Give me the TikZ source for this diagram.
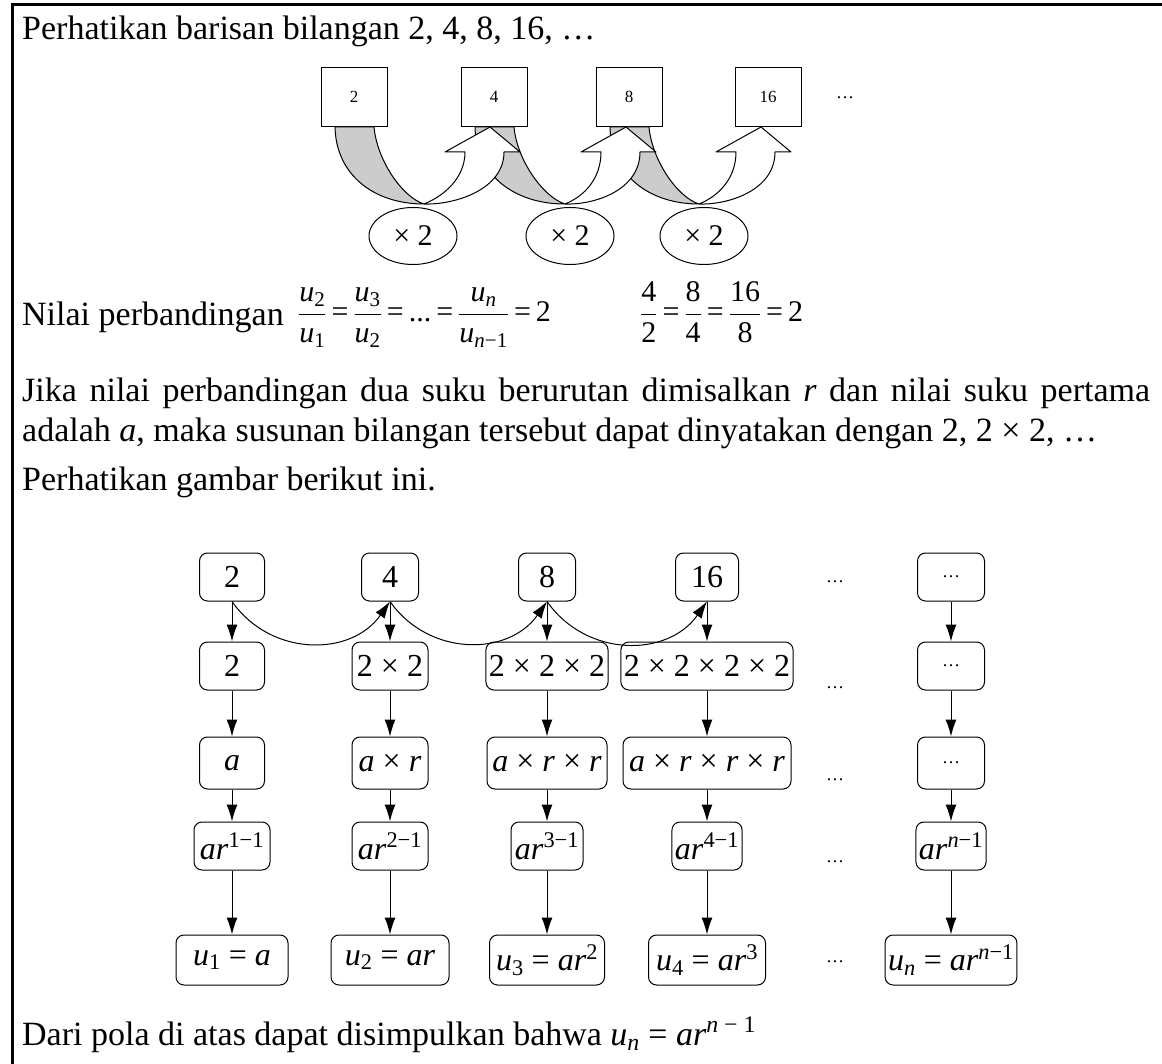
\RequirePackage{fix-cm}
\documentclass[tikz,border=0pt]{standalone}
\usepackage{amsmath}
\usepackage{fontspec}
\setmainfont{Liberation Serif}
\usetikzlibrary{arrows.meta,shapes.geometric}

\newcommand{\eq}{\mathrel{\text{=}}}
\newcommand{\vu}[1]{\textit{u}_{\text{#1}}}

\tikzset{
  txt/.style={anchor=base west, inner sep=0pt, font=\fontsize{34}{40}\selectfont},
  formula/.style={anchor=base west, inner sep=0pt, font=\fontsize{30}{34}\selectfont},
  sqbox/.style={draw, line width=1pt, minimum width=66pt, minimum height=59pt, inner sep=0pt, font=\fontsize{17}{20}\selectfont},
  oval/.style={draw, ellipse, line width=1pt, minimum width=88pt, minimum height=57pt, inner sep=0pt, font=\fontsize{30}{34}\selectfont},
  rbox/.style={draw, line width=1pt, rounded corners=8pt, minimum height=48pt, inner sep=3pt, font=\fontsize{32}{36}\selectfont},
  dots/.style={inner sep=0pt, font=\fontsize{18}{20}\selectfont},
  arr/.style={-{Latex[length=17pt,width=11pt]}, line width=1pt},
  band/.style={draw, line width=1pt, line join=round},
}

\begin{document}
\begin{tikzpicture}[x=1pt, y=-1pt]
    \useasboundingbox (0,0) rectangle (1162,1064);

    % frame
    \draw[line width=3pt] (12,1064) -- (12,5) -- (1162,5);

    % first sequence
    \node[txt] (line1) at (22,40) {Perhatikan barisan bilangan 2, 4, 8, 16, \ldots};

    \node[sqbox] (s1) at (354,97) {2};
    \node[sqbox] (s2) at (494,97) {4};
    \node[sqbox] (s3) at (629,97) {8};
    \node[sqbox] (s4) at (768,97) {16};
    \node[dots] (sdots) at (845,98) {\ldots};

    % shaded backs of the curved arrows
    \foreach \sx/\bx/\tx in {354/424/490, 494/565/626, 629/699/761} {
        \filldraw[band, fill=black!20] (\sx-19,127) .. controls (\sx-18,175) and (\sx+20,204) .. (\bx,204)
            .. controls (\bx-22,197) and (\sx+23,160) .. (\sx+20,127) -- cycle;
    }
    % white fronts with heads
    \foreach \sx/\bx/\tx in {354/424/490, 494/565/626, 629/699/761} {
        \filldraw[band, fill=white] (\bx,204) .. controls (\bx+20,196) and (\tx-25,178) .. (\tx-25,152)
            -- (\tx-45,152) -- (\tx,127) -- (\tx+30,152) -- (\tx+14,152)
            .. controls (\tx+14,190) and (\bx+30,205) .. (\bx,204) -- cycle;
    }

    \node[oval] (o1) at (413,236) {× 2};
    \node[oval] (o2) at (570,236) {× 2};
    \node[oval] (o3) at (704,236) {× 2};

    % ratios
    \node[txt] (line2) at (22,326) {Nilai perbandingan};
    \node[formula] (ratio) at (298,322)
        {$\thickmuskip=3mu \dfrac{\vu{2}}{\vu{1}}\eq\dfrac{\vu{3}}{\vu{2}}\eq\text{...}\eq\dfrac{\vu{\textit{n}}}{\vu{\textit{n}−1}}\eq\text{2}$};
    \node[formula] (ratio2) at (640,322)
        {$\thickmuskip=3mu \dfrac{\text{4}}{\text{2}}\eq\dfrac{\text{8}}{\text{4}}\eq\dfrac{\text{16}}{\text{8}}\eq\text{2}$};

    \node[txt] (line3) at (22,402) {\makebox[1128pt][s]{Jika nilai perbandingan dua suku berurutan dimisalkan \textit{r} dan nilai suku pertama}};
    \node[txt] (line4) at (22,442) {adalah \textit{a}, maka susunan bilangan tersebut dapat dinyatakan dengan 2, 2 × 2, \ldots};
    \node[txt] (line5) at (22,490) {Perhatikan gambar berikut ini.};

    % pattern diagram
    \node[rbox, minimum width=65pt] (num1) at (232,577) {2};
    \node[rbox, minimum width=57pt] (num2) at (390,577) {4};
    \node[rbox, minimum width=57pt] (num3) at (547,577) {8};
    \node[rbox, minimum width=63pt] (num4) at (707,577) {16};
    \node[rbox, minimum width=67pt] (numn) at (951,577) {\fontsize{18}{20}\selectfont\ldots};

    \node[rbox, minimum width=65pt] (prod1) at (232,666) {2};
    \node[rbox, minimum width=76pt] (prod2) at (390,666) {2 × 2};
    \node[rbox, minimum width=120pt] (prod3) at (547,666) {2 × 2 × 2};
    \node[rbox, minimum width=168pt] (prod4) at (707,666) {2 × 2 × 2 × 2};
    \node[rbox, minimum width=67pt] (prodn) at (951,666) {\fontsize{18}{20}\selectfont\ldots};

    \node[rbox, minimum width=65pt, minimum height=52pt] (gen1) at (232,763) {\textit{a}};
    \node[rbox, minimum width=76pt, minimum height=52pt] (gen2) at (390,763) {\textit{a} × \textit{r}};
    \node[rbox, minimum width=120pt, minimum height=52pt] (gen3) at (547,763) {\textit{a} × \textit{r} × \textit{r}};
    \node[rbox, minimum width=168pt, minimum height=52pt] (gen4) at (707,763) {\textit{a} × \textit{r} × \textit{r} × \textit{r}};
    \node[rbox, minimum width=67pt, minimum height=52pt] (genn) at (951,763) {\fontsize{18}{20}\selectfont\ldots};

    \node[rbox, minimum width=76pt] (pow1) at (232,846) {\textit{ar}\textsuperscript{1−1}};
    \node[rbox, minimum width=76pt] (pow2) at (390,846) {\textit{ar}\textsuperscript{2−1}};
    \node[rbox, minimum width=72pt] (pow3) at (547,846) {\textit{ar}\textsuperscript{3−1}};
    \node[rbox, minimum width=68pt] (pow4) at (707,846) {\textit{ar}\textsuperscript{4−1}};
    \node[rbox, minimum width=67pt] (pown) at (951,846) {\textit{ar}\textsuperscript{\textit{n}−1}};

    \node[rbox, minimum width=112pt, minimum height=50pt] (term1) at (232,960) {\textit{u}\textsubscript{1} = \textit{a}};
    \node[rbox, minimum width=118pt, minimum height=50pt] (term2) at (390,960) {\textit{u}\textsubscript{2} = \textit{ar}};
    \node[rbox, minimum width=115pt, minimum height=50pt] (term3) at (547,960) {\textit{u}\textsubscript{3} = \textit{ar}\textsuperscript{2}};
    \node[rbox, minimum width=117pt, minimum height=50pt] (term4) at (707,960) {\textit{u}\textsubscript{4} = \textit{ar}\textsuperscript{3}};
    \node[rbox, minimum width=80pt, minimum height=50pt] (termn) at (951,960) {\textit{u}\textsubscript{\textit{n}} = \textit{ar}\textsuperscript{\textit{n}−1}};

    \node[dots] (d1) at (835,582) {\ldots};
    \node[dots] (d2) at (835,688) {\ldots};
    \node[dots] (d3) at (835,780) {\ldots};
    \node[dots] (d4) at (835,862) {\ldots};
    \node[dots] (d5) at (835,962) {\ldots};

    \foreach \c in {1,2,3,4,n} {
        \draw[arr] (num\c.south) -- (prod\c.north);
        \draw[arr] (prod\c.south) -- (gen\c.north);
        \draw[arr] (gen\c.south) -- (pow\c.north);
        \draw[arr] (pow\c.south) -- (term\c.north);
    }
    \foreach \a/\b in {1/2, 2/3, 3/4}
        \draw[arr] (num\a.south) to[out=-55, in=-125, looseness=1.1] (num\b.south);

    \node[txt] (line6) at (22,1045) {Dari pola di atas dapat disimpulkan bahwa \textit{u}\textsubscript{\textit{n}} = \textit{ar}\textsuperscript{\textit{n} − 1}};
\end{tikzpicture}
\end{document}
